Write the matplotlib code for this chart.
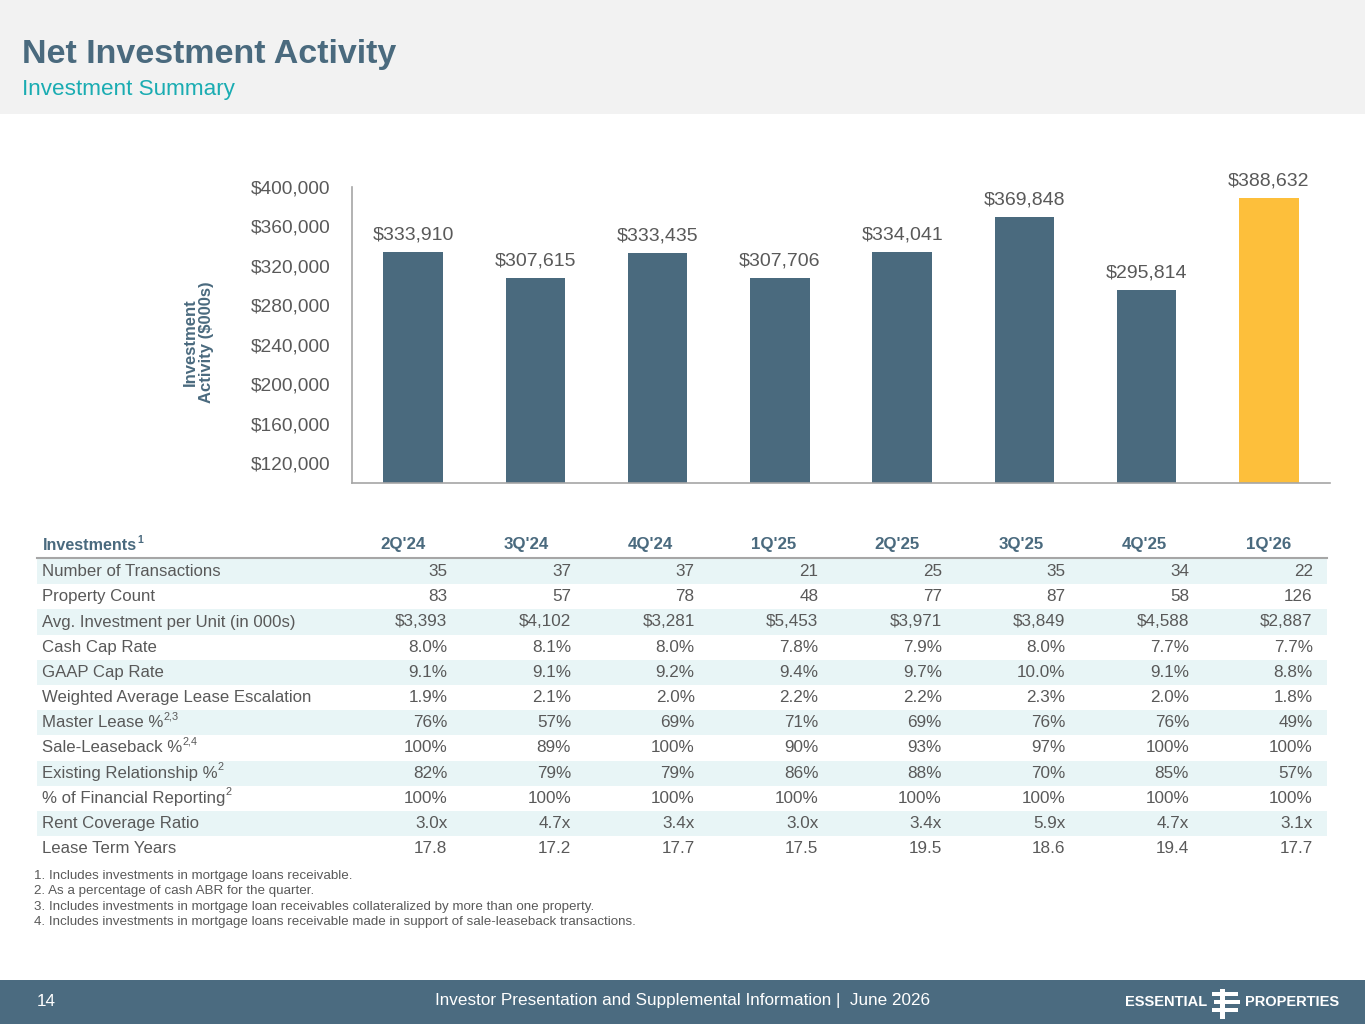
import matplotlib
matplotlib.use("Agg")
import matplotlib.pyplot as plt
from matplotlib.patches import Rectangle

plt.rcParams['font.family'] = ['Liberation Sans', 'DejaVu Sans']

# ---------------- data ----------------
quarters = ["2Q'24", "3Q'24", "4Q'24", "1Q'25", "2Q'25", "3Q'25", "4Q'25", "1Q'26"]
investment = [333910, 307615, 333435, 307706, 334041, 369848, 295814, 388632]
y_ticks = [120000, 160000, 200000, 240000, 280000, 320000, 360000, 400000]

row_labels = ["Number of Transactions", "Property Count", "Avg. Investment per Unit (in 000s)",
              "Cash Cap Rate", "GAAP Cap Rate", "Weighted Average Lease Escalation",
              "Master Lease %", "Sale-Leaseback %", "Existing Relationship %",
              "% of Financial Reporting", "Rent Coverage Ratio", "Lease Term Years"]
row_sups = ["", "", "", "", "", "", "2,3", "2,4", "2", "2", "", ""]
n_transactions = ["35", "37", "37", "21", "25", "35", "34", "22"]
property_count = ["83", "57", "78", "48", "77", "87", "58", "126"]
avg_investment = ["$3,393", "$4,102", "$3,281", "$5,453", "$3,971", "$3,849", "$4,588", "$2,887"]
cash_cap = ["8.0%", "8.1%", "8.0%", "7.8%", "7.9%", "8.0%", "7.7%", "7.7%"]
gaap_cap = ["9.1%", "9.1%", "9.2%", "9.4%", "9.7%", "10.0%", "9.1%", "8.8%"]
lease_escalation = ["1.9%", "2.1%", "2.0%", "2.2%", "2.2%", "2.3%", "2.0%", "1.8%"]
master_lease = ["76%", "57%", "69%", "71%", "69%", "76%", "76%", "49%"]
sale_leaseback = ["100%", "89%", "100%", "90%", "93%", "97%", "100%", "100%"]
existing_rel = ["82%", "79%", "79%", "86%", "88%", "70%", "85%", "57%"]
fin_reporting = ["100%", "100%", "100%", "100%", "100%", "100%", "100%", "100%"]
rent_coverage = ["3.0x", "4.7x", "3.4x", "3.0x", "3.4x", "5.9x", "4.7x", "3.1x"]
lease_term = ["17.8", "17.2", "17.7", "17.5", "19.5", "18.6", "19.4", "17.7"]
table_rows = [n_transactions, property_count, avg_investment, cash_cap, gaap_cap,
              lease_escalation, master_lease, sale_leaseback, existing_rel,
              fin_reporting, rent_coverage, lease_term]

footnotes = ["1. Includes investments in mortgage loans receivable.",
             "2. As a percentage of cash ABR for the quarter.",
             "3. Includes investments in mortgage loan receivables collateralized by more than one property.",
             "4. Includes investments in mortgage loans receivable made in support of sale-leaseback transactions."]

# ---------------- style ----------------
W, H = 1365, 1024
SLATE = "#4a6a7e"
TEAL = "#1aacb2"
GOLD = "#fdbf3b"
GRAY = "#595959"
SHADE = "#e8f5f6"

fig = plt.figure(figsize=(W / 100, H / 100), dpi=100)
fig.patch.set_facecolor("white")
renderer = fig.canvas.get_renderer()


def fx(px):
    return px / W


def fy(py):
    return 1 - py / H


# header band
fig.patches.append(Rectangle((0, fy(114)), 1, 114 / H, transform=fig.transFigure,
                             facecolor="#f2f2f2", edgecolor="none", zorder=0))
fig.text(fx(22), fy(54), "Net Investment Activity", fontsize=24.5, fontweight="bold",
         color=SLATE, va="center", ha="left")
fig.text(fx(22), fy(89), "Investment Summary", fontsize=16.2, color=TEAL,
         va="center", ha="left")

# ---------------- bar chart ----------------
ax = fig.add_axes([fx(352), fy(483), fx(1330) - fx(352), fy(187) - fy(483)])
colors = [SLATE] * (len(quarters) - 1) + [GOLD]
xs = list(range(len(quarters)))
ax.bar(xs, investment, width=0.485, color=colors, zorder=2)
ax.set_xlim(-0.5, len(quarters) - 0.5)
ax.set_ylim(100000, 400000)
ax.set_yticks(y_ticks)
ax.set_yticklabels([f"${v:,.0f}" for v in y_ticks], fontsize=13.8, color=GRAY)
ax.set_xticks([])
ax.tick_params(axis="y", length=0, pad=15.5)
for s in ["top", "right"]:
    ax.spines[s].set_visible(False)
for s in ["left", "bottom"]:
    ax.spines[s].set_color("#a6a6a6")
    ax.spines[s].set_linewidth(1.2)
for x, v in zip(xs, investment):
    ax.annotate(f"${v:,.0f}", (x, v), xytext=(0, 6), textcoords="offset points",
                ha="center", va="bottom", fontsize=14, color=GRAY, clip_on=False)
fig.text(fx(198), fy(342), "Investment\nActivity ($000s)", rotation=90, fontsize=12,
         fontweight="bold", color=SLATE, ha="center", va="center", linespacing=1.1)

# ---------------- table ----------------
tbl_left, tbl_right = 37, 1327
head_y = 545
line_y = 558
row_h = 25.2
val_right = [447.5 + 123.6 * i for i in range(len(quarters))]
head_cx = [403 + 123.6 * i for i in range(len(quarters))]

t = fig.text(fx(43), fy(head_y), "Investments", fontsize=11.6, fontweight="bold",
             color=SLATE, ha="left", va="center")
bb = t.get_window_extent(renderer=renderer)
fig.text(bb.x1 / W + 0.0004, fy(head_y - 5), "1", fontsize=7.5, fontweight="bold",
         color=SLATE, ha="left", va="center")
for cx, q in zip(head_cx, quarters):
    fig.text(fx(cx), fy(head_y), q, fontsize=12.2, fontweight="bold", color=SLATE,
             ha="center", va="center")
fig.lines.append(plt.Line2D([fx(tbl_left), fx(tbl_right)], [fy(line_y), fy(line_y)],
                            transform=fig.transFigure, color="#a6a6a6", lw=1.5))

for i, (lab, sup, vals) in enumerate(zip(row_labels, row_sups, table_rows)):
    top = line_y + 1 + i * row_h
    cy = top + row_h / 2
    if i % 2 == 0:
        fig.patches.append(Rectangle((fx(tbl_left), fy(top + row_h)), fx(tbl_right) - fx(tbl_left),
                                     row_h / H, transform=fig.transFigure,
                                     facecolor=SHADE, edgecolor="none", zorder=0))
    t = fig.text(fx(42), fy(cy), lab, fontsize=12.1, color=GRAY, ha="left", va="center")
    if sup:
        bb = t.get_window_extent(renderer=renderer)
        fig.text(bb.x1 / W, fy(cy - 6), sup, fontsize=7.8, color=GRAY,
                 ha="left", va="center")
    for xr, v in zip(val_right, vals):
        fig.text(fx(xr), fy(cy), v, fontsize=12.3, color=GRAY, ha="right", va="center")

for k, fn in enumerate(footnotes):
    fig.text(fx(34), fy(876 + 15.3 * k), fn, fontsize=9.6, color=GRAY, ha="left", va="center")

# ---------------- footer ----------------
fig.patches.append(Rectangle((0, 0), 1, 44 / H, transform=fig.transFigure,
                             facecolor="#4b6b80", edgecolor="none", zorder=0))
fig.text(fx(37), fy(1002), "14", fontsize=12.3, color="white", ha="left", va="center")
fig.text(fx(683), fy(1001), "Investor Presentation and Supplemental Information |  June 2026",
         fontsize=12.3, color="white", ha="center", va="center")
fig.text(fx(1207), fy(1002), "ESSENTIAL", fontsize=10.5, fontweight="bold", color="white",
         ha="right", va="center")
fig.text(fx(1245), fy(1002), "PROPERTIES", fontsize=10.5, fontweight="bold", color="white",
         ha="left", va="center")
# logo mark
fig.patches.append(Rectangle((fx(1219.5), fy(1019)), 5 / W, 30 / H, transform=fig.transFigure,
                             facecolor="white", edgecolor="none"))
for yy, x0, x1 in [(993, 1212, 1238), (1001, 1214, 1240), (1009, 1212, 1238)]:
    fig.patches.append(Rectangle((fx(x0), fy(yy + 2.5)), (x1 - x0) / W, 4 / H,
                                 transform=fig.transFigure, facecolor="white", edgecolor="none"))

fig.savefig("out.png", dpi=100, facecolor=fig.get_facecolor())
